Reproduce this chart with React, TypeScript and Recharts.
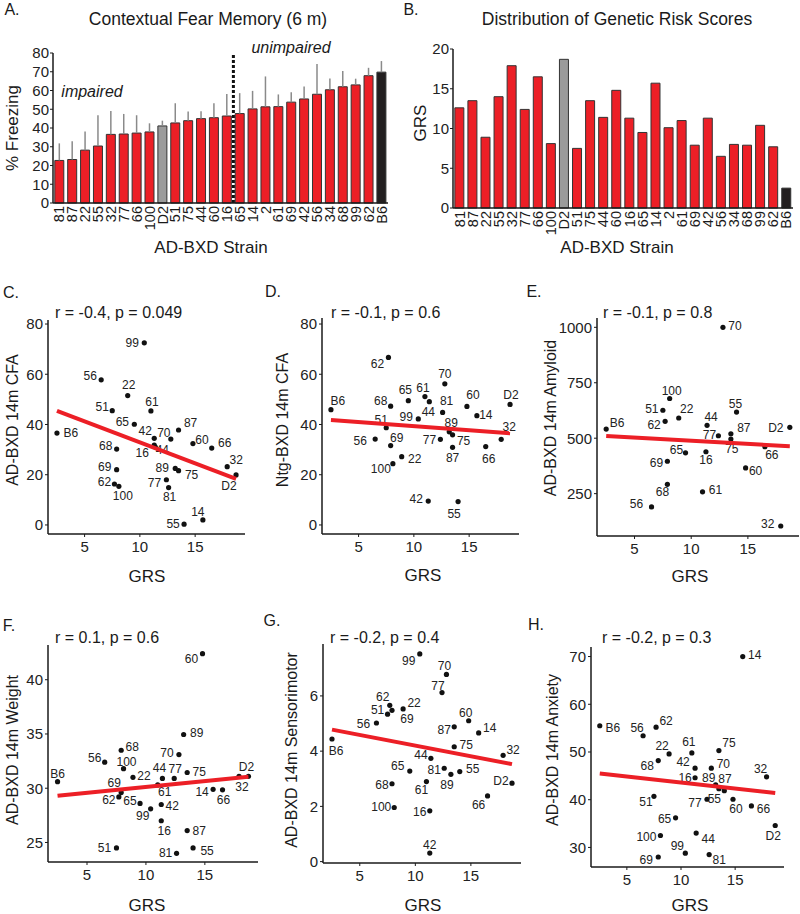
import React from 'react';
import { BarChart, Bar, Cell, ErrorBar, XAxis, YAxis, ReferenceLine, ScatterChart, Scatter } from 'recharts';

const FONT = '"Liberation Sans", Arial, Helvetica, sans-serif';
const RED = '#ec1f26';
const INK = '#1a1a1a';

// strains in the order of panels A and B
const strains = ['81', '87', '22', '55', '32', '77', '66', '100', 'D2', '51', '75', '44', '60', '16', '65', '14', '2', '61', '69', '42', '56', '34', '68', '99', '62', 'B6'];
const freezing = [22.7, 23.2, 28.2, 30.4, 36.6, 36.8, 37.3, 37.9, 41.1, 42.7, 43.9, 45.0, 45.5, 46.4, 47.7, 50.2, 51.3, 51.4, 53.8, 55.5, 58.0, 60.4, 62.0, 63.0, 67.9, 69.8];
const freezingSem = [9.1, 9.7, 10.0, 16.4, 12.5, 10.7, 9.5, 4.6, 2.8, 10.5, 4.9, 3.9, 7.7, 11.8, 10.9, 9.6, 16.2, 6.5, 5.3, 6.6, 16.1, 6.0, 8.4, 3.3, 4.2, 5.9];
const grs = [12.6, 13.5, 8.9, 14.0, 17.9, 12.4, 16.5, 8.1, 18.7, 7.5, 13.5, 11.4, 14.8, 11.3, 9.5, 15.7, 10.1, 11.0, 7.9, 11.3, 6.5, 8.0, 7.9, 10.4, 7.7, 2.5];
// strains only present in the scatter panels
const extraStrains = ['70', '89'];
const extraGrs = [12.8, 13.2];

const freezingTicks = [0, 10, 20, 30, 40, 50, 60, 70, 80];
const grsTicks = [0, 5, 10, 15, 20];
const grsAxisTicks = [5, 10, 15];

// C: AD-BXD 14m CFA
const cfaStrains = ['B6', '99', '56', '22', '51', '61', '65', '42', '70', '87', '60', '66', '68', '16', '44', '89', '75', '69', '62', '100', '77', '81', '32', 'D2', '55', '14'];
const cfaValues = [36.6, 72.5, 57.8, 51.5, 45.5, 45.4, 40.1, 34.5, 34.2, 37.8, 32.4, 30.6, 30.2, 31.8, 31.0, 22.5, 21.6, 22.0, 16.3, 15.4, 18.0, 14.9, 23.2, 19.9, 0.3, 2.0];
const cfaFit = [{ x: 2.5, y: 45.4 }, { x: 18.7, y: 18.3 }];

// D: Ntg-BXD 14m CFA
const ntgStrains = ['B6', '62', '70', '65', '61', '44', '81', '99', '68', '60', 'D2', '14', '51', '89', '75', '77', '32', '56', '69', '87', '66', '22', '100', '42', '55'];
const ntgValues = [45.9, 66.7, 56.2, 49.5, 51.1, 49.1, 44.8, 42.2, 47.3, 47.2, 48.0, 43.5, 38.7, 37.1, 35.9, 34.1, 34.1, 34.2, 31.6, 30.9, 31.2, 27.2, 24.4, 9.5, 9.3];
const ntgFit = [{ x: 2.5, y: 41.8 }, { x: 18.7, y: 36.5 }];

// E: AD-BXD 14m Amyloid
const amyStrains = ['70', '100', '55', '51', '22', '62', '44', 'B6', 'D2', '87', '77', '75', '65', '16', '66', '69', '60', '68', '61', '56', '32'];
const amyValues = [1000, 679, 618, 626, 591, 576, 558, 541, 549, 520, 511, 496, 434, 439, 462, 396, 366, 292, 258, 190, 104];
const amyFit = [{ x: 2.5, y: 510 }, { x: 18.7, y: 464 }];

// F: AD-BXD 14m Weight
const wtStrains = ['60', '89', '68', '70', '56', '100', 'B6', 'D2', '32', '22', '44', '77', '75', '61', '69', '62', '14', '66', '65', '99', '42', '16', '87', '51', '55', '81'];
const wtValues = [42.4, 34.95, 33.5, 33.1, 32.4, 31.8, 30.6, 31.1, 31.1, 31.0, 30.9, 30.9, 31.45, 30.3, 29.6, 29.2, 29.9, 29.85, 28.6, 28.1, 28.5, 27.0, 26.1, 24.5, 24.5, 24.0];
const wtFit = [{ x: 2.5, y: 29.3 }, { x: 18.7, y: 31.05 }];

// G: AD-BXD 14m Sensorimotor
const smStrains = ['99', '70', '77', '62', '51', '69', '22', '56', '60', '87', '14', 'B6', '75', '32', '44', '65', '81', '89', '55', '68', '61', 'D2', '66', '100', '16', '42'];
const smValues = [7.52, 6.78, 6.12, 5.66, 5.34, 5.48, 5.53, 5.02, 5.1, 4.88, 4.66, 4.44, 4.16, 3.85, 3.74, 3.28, 3.38, 3.16, 3.26, 2.82, 2.9, 2.84, 2.38, 1.96, 1.84, 0.31];
const smFit = [{ x: 2.5, y: 4.78 }, { x: 18.7, y: 3.53 }];

// H: AD-BXD 14m Anxiety
const anxStrains = ['14', 'B6', '62', '56', '75', '61', '22', '68', '42', '70', '32', '16', '89', '87', '51', '77', '55', '60', '66', '65', 'D2', '100', '44', '99', '81', '69'];
const anxValues = [70.0, 55.5, 55.2, 53.4, 50.3, 49.8, 49.6, 48.2, 46.6, 46.6, 44.8, 44.6, 43.1, 42.3, 40.7, 40.1, 41.9, 40.1, 38.7, 36.2, 34.6, 32.5, 33.0, 28.8, 28.5, 28.0];
const anxFit = [{ x: 2.5, y: 45.5 }, { x: 18.7, y: 41.4 }];

// label placement (pixel offsets from each point), same order as the strain lists
const cfaOffsets = [[14, 0], [-12, 0], [-11, -4], [1, -11], [-10, -4], [1, -9], [-12, -2], [-9, -7], [-7, -6], [12, -7], [9, -4], [13, -5], [-11, -3], [-12, 8], [7, 3], [-13, 0], [13, 4], [-12, -3], [-10, -2], [4, 10], [-12, 3], [1, 9], [9, -7], [-7, 11], [-11, 0], [-5, -8]];
const ntgOffsets = [[7, -9], [-11, 7], [0, -10], [-3, -11], [-2, -9], [-1, 10], [4, -11], [-12, -2], [-10, -5], [6, -11], [1, -9], [9, -1], [-5, -8], [2, -9], [11, 6], [-11, 1], [8, -12], [-15, 2], [6, -8], [0, 11], [3, 12], [13, 2], [-12, 5], [-12, -2], [-4, 12]];
const amyOffsets = [[12, -1], [2, -8], [-1, -8], [-11, -1], [8, -9], [-11, 4], [4, -8], [11, -6], [-14, 1], [13, -6], [-9, -1], [1, 10], [-9, -3], [0, 8], [7, 8], [-11, 2], [10, 3], [-5, 8], [13, -2], [-15, -3], [-13, -2]];
const wtOffsets = [[-11, 5], [13, -2], [11, -3], [-12, -2], [-10, -4], [3, -7], [0, -8], [-2, -9], [3, 11], [11, -1], [-3, -10], [1, -9], [12, 0], [7, 7], [-7, -10], [-10, 3], [-11, 3], [1, 10], [-10, -2], [-8, 7], [11, 2], [3, 10], [12, 0], [-12, 0], [14, 3], [-11, 0]];
const smOffsets = [[-11, 7], [-2, -8], [-4, -7], [-7, -8], [-10, -4], [15, 9], [11, -6], [-13, 1], [-3, -8], [-10, 3], [11, -5], [4, 12], [12, -2], [10, -5], [-10, -3], [-12, -5], [-10, 2], [-4, 11], [13, -3], [-10, 1], [-5, 8], [-11, -2], [-9, 9], [-13, 0], [-10, 1], [0, -8]];
const anxOffsets = [[12, -2], [13, 2], [10, -6], [-6, -8], [10, -8], [-3, -11], [-7, -8], [-11, 5], [-12, -6], [12, -4], [-6, -8], [-10, 0], [-7, -7], [6, -10], [-8, 6], [-12, 4], [-10, 8], [3, 10], [12, 3], [-11, 1], [-2, 11], [-14, 1], [12, 6], [-8, -7], [10, 5], [-12, 3]];

const grsByStrain: Record<string, number> = {};
strains.forEach((s, i) => { grsByStrain[s] = grs[i]; });
extraStrains.forEach((s, i) => { grsByStrain[s] = extraGrs[i]; });

const fearRows = strains.map((s, i) => ({ strain: s, value: freezing[i], err: [0, freezingSem[i]] }));
const grsRows = strains.map((s, i) => ({ strain: s, value: grs[i] }));

const barColor = (s: string) => (s === 'D2' ? '#9b9b9b' : s === 'B6' ? '#231f20' : RED);

const Txt = ({ x, y, size, children, rotate, italic, start }: any) => (
  <div
    style={{
      position: 'absolute',
      left: x,
      top: y,
      fontSize: size,
      lineHeight: 1,
      whiteSpace: 'nowrap',
      fontStyle: italic ? 'italic' : 'normal',
      color: INK,
      transform: `${start ? 'translate(0,-50%)' : 'translate(-50%,-50%)'}${rotate ? ' rotate(-90deg)' : ''}`,
    }}
  >
    {children}
  </div>
);

const StrainTick = (props: any) => {
  const { x, y, payload } = props;
  return (
    <text x={x} y={y} transform={`rotate(-90 ${x} ${y})`} textAnchor="end" dominantBaseline="central" fontSize={14.5} fill={INK} fontFamily={FONT}>
      {payload.value}
    </text>
  );
};

const axisLine = { stroke: INK, strokeWidth: 1.5 };
const tickStyle = { fontSize: 15, fill: '#222', fontFamily: FONT };

const PointWithLabel = (props: any) => {
  const { cx, cy, payload } = props;
  if (cx == null || cy == null) return <g />;
  return (
    <g>
      <circle cx={cx} cy={cy} r={2.6} fill="#111" />
      <text x={cx + payload.dx} y={cy + payload.dy} textAnchor="middle" dominantBaseline="central" fontSize={12} fill="#222" fontFamily={FONT}>
        {payload.name}
      </text>
    </g>
  );
};

const ScatterPanel = ({ names, values, offsets, fit, yDomain, yTicks, plot }: any) => {
  const [x0, x1, y0, y1] = plot;
  const padL = 48;
  const padT = 12;
  const padB = 50;
  const padR = 1;
  const rows = names.map((s: string, i: number) => ({ x: grsByStrain[s], y: values[i], name: s, dx: offsets[i][0], dy: offsets[i][1] }));
  return (
    <div style={{ position: 'absolute', left: x0 - padL, top: y0 - padT }}>
      <ScatterChart width={x1 - x0 + padL + padR} height={y1 - y0 + padT + padB} margin={{ top: padT, right: padR, bottom: 0, left: 0 }}>
        <XAxis type="number" dataKey="x" domain={[1.69, 19.51]} ticks={grsAxisTicks} allowDataOverflow height={padB} axisLine={axisLine} tickLine={{ stroke: INK }} tickSize={3} tickMargin={4} tick={tickStyle} interval={0} />
        <YAxis type="number" dataKey="y" domain={yDomain} ticks={yTicks} allowDataOverflow width={padL} axisLine={axisLine} tickLine={{ stroke: INK }} tickSize={3} tickMargin={2} tick={tickStyle} interval={0} />
        <Scatter data={rows} shape={PointWithLabel} isAnimationActive={false} />
        <Scatter data={fit} line={{ stroke: RED, strokeWidth: 4 }} shape={() => <g />} isAnimationActive={false} />
      </ScatterChart>
    </div>
  );
};

const App: React.FC = () => {
  return (
    <div style={{ position: 'absolute', left: 0, top: 0, width: 800, height: 914, overflow: 'hidden', background: '#fff', fontFamily: FONT }}>
      {/* A */}
      <div style={{ position: 'absolute', left: 0, top: 0 }}>
        <BarChart width={400} height={262} data={fearRows} margin={{ top: 53, right: 12, left: 0, bottom: 0 }} barCategoryGap="14%">
          <XAxis dataKey="strain" interval={0} height={59} axisLine={axisLine} tickLine={false} tickSize={0} tickMargin={3} tick={<StrainTick />} />
          <YAxis domain={[0, 80]} ticks={freezingTicks} interval={0} width={53} axisLine={axisLine} tickLine={{ stroke: INK }} tickSize={3} tickMargin={1} tick={tickStyle} />
          <Bar dataKey="value" isAnimationActive={false} stroke="#333" strokeWidth={1}>
            {fearRows.map((r) => (
              <Cell key={r.strain} fill={barColor(r.strain)} />
            ))}
            <ErrorBar dataKey="err" width={0} stroke="#8a8a8a" strokeWidth={1.5} direction="y" isAnimationActive={false} />
          </Bar>
          <ReferenceLine x="65" position="start" stroke="#111" strokeWidth={3} strokeDasharray="3 2" />
        </BarChart>
      </div>
      <Txt x={12} y={10} size={16}>A.</Txt>
      <Txt x={208} y={20} size={17.5}>Contextual Fear Memory (6 m)</Txt>
      <Txt x={12} y={128} size={17} rotate>% Freezing</Txt>
      <Txt x={92} y={92} size={16} italic>impaired</Txt>
      <Txt x={291} y={48} size={16} italic>unimpaired</Txt>
      <Txt x={211} y={247} size={17}>AD-BXD Strain</Txt>

      {/* B */}
      <div style={{ position: 'absolute', left: 400, top: 0 }}>
        <BarChart width={400} height={262} data={grsRows} margin={{ top: 49, right: 7, left: 0, bottom: 0 }} barCategoryGap="14%">
          <XAxis dataKey="strain" interval={0} height={54} axisLine={axisLine} tickLine={false} tickSize={0} tickMargin={3} tick={<StrainTick />} />
          <YAxis domain={[0, 20]} ticks={grsTicks} interval={0} width={53} axisLine={axisLine} tickLine={{ stroke: INK }} tickSize={3} tickMargin={1} tick={tickStyle} />
          <Bar dataKey="value" isAnimationActive={false} stroke="#333" strokeWidth={1}>
            {grsRows.map((r) => (
              <Cell key={r.strain} fill={barColor(r.strain)} />
            ))}
          </Bar>
        </BarChart>
      </div>
      <Txt x={411} y={10} size={16}>B.</Txt>
      <Txt x={617} y={20} size={17.5}>Distribution of Genetic Risk Scores</Txt>
      <Txt x={420} y={123} size={17} rotate>GRS</Txt>
      <Txt x={617} y={247} size={17}>AD-BXD Strain</Txt>

      {/* C, D, E */}
      <ScatterPanel names={cfaStrains} values={cfaValues} offsets={cfaOffsets} fit={cfaFit} yDomain={[-3.6, 81.6]} yTicks={[0, 20, 40, 60, 80]} plot={[48, 245, 320, 534]} />
      <ScatterPanel names={ntgStrains} values={ntgValues} offsets={ntgOffsets} fit={ntgFit} yDomain={[-3.6, 82.4]} yTicks={[0, 20, 40, 60, 80]} plot={[322, 519, 318, 534]} />
      <ScatterPanel names={amyStrains} values={amyValues} offsets={amyOffsets} fit={amyFit} yDomain={[59, 1042]} yTicks={[250, 500, 750, 1000]} plot={[597, 799, 318, 536]} />

      <Txt x={11} y={293} size={16}>C.</Txt>
      <Txt x={273} y={292} size={16}>D.</Txt>
      <Txt x={534} y={292} size={16}>E.</Txt>
      <Txt x={55} y={313} size={16} start>r = -0.4, p = 0.049</Txt>
      <Txt x={331} y={313} size={16} start>r = -0.1, p = 0.6</Txt>
      <Txt x={603} y={313} size={16} start>r = -0.1, p = 0.8</Txt>
      <Txt x={13} y={420} size={16} rotate>AD-BXD 14m CFA</Txt>
      <Txt x={283} y={420} size={16} rotate>Ntg-BXD 14m CFA</Txt>
      <Txt x={551} y={418} size={16} rotate>AD-BXD 14m Amyloid</Txt>
      <Txt x={147} y={576} size={17}>GRS</Txt>
      <Txt x={423} y={575} size={17}>GRS</Txt>
      <Txt x={690} y={576} size={17}>GRS</Txt>

      {/* F, G, H */}
      <ScatterPanel names={wtStrains} values={wtValues} offsets={wtOffsets} fit={wtFit} yDomain={[23.2, 43.2]} yTicks={[25, 30, 35, 40]} plot={[48, 258, 645, 862]} />
      <ScatterPanel names={smStrains} values={smValues} offsets={smOffsets} fit={smFit} yDomain={[-0.05, 7.88]} yTicks={[0, 2, 4, 6]} plot={[323, 521, 644, 863]} />
      <ScatterPanel names={anxStrains} values={anxValues} offsets={anxOffsets} fit={anxFit} yDomain={[25.9, 72.0]} yTicks={[30, 40, 50, 60, 70]} plot={[591, 784, 647, 867]} />

      <Txt x={9} y={626} size={16}>F.</Txt>
      <Txt x={272} y={621} size={16}>G.</Txt>
      <Txt x={536} y={625} size={16}>H.</Txt>
      <Txt x={55} y={638} size={16} start>r = 0.1, p = 0.6</Txt>
      <Txt x={330} y={638} size={16} start>r = -0.2, p = 0.4</Txt>
      <Txt x={602} y={638} size={16} start>r = -0.2, p = 0.3</Txt>
      <Txt x={13} y={750} size={16} rotate>AD-BXD 14m Weight</Txt>
      <Txt x={292} y={750} size={16} rotate>AD-BXD 14m Sensorimotor</Txt>
      <Txt x={553} y={750} size={16} rotate>AD-BXD 14m Anxiety</Txt>
      <Txt x={147} y={905} size={17}>GRS</Txt>
      <Txt x={423} y={905} size={17}>GRS</Txt>
      <Txt x={690} y={905} size={17}>GRS</Txt>
    </div>
  );
};

export default App;
